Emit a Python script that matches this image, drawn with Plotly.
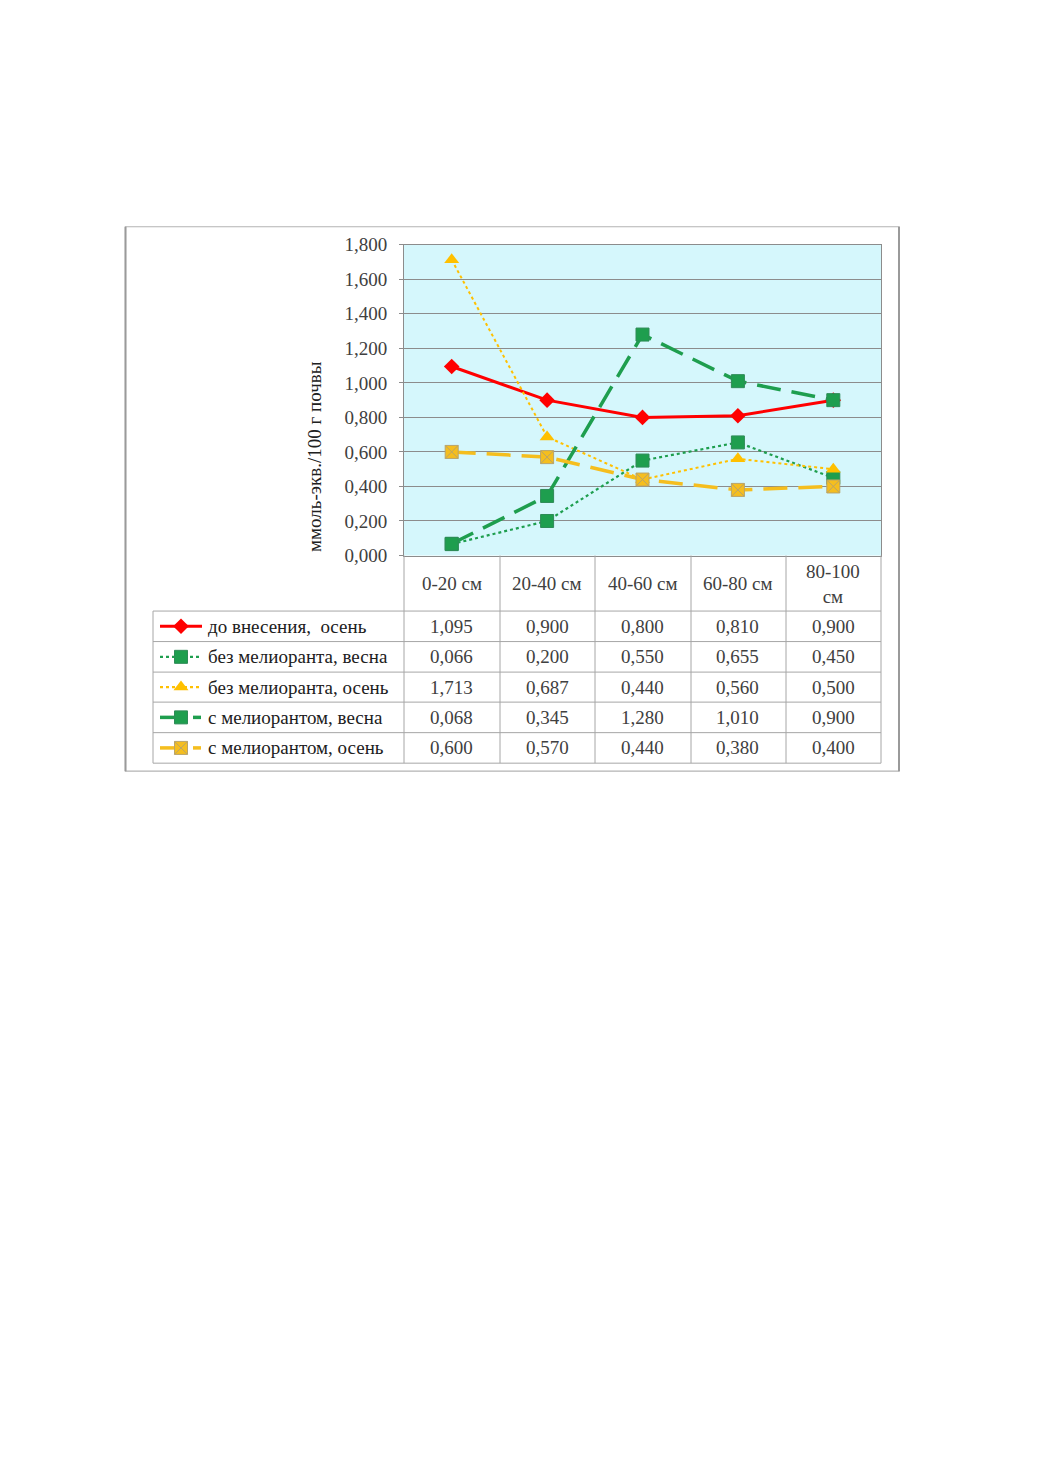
import plotly.graph_objects as go

# ---------------- data ----------------
categories = ["0-20 см", "20-40 см", "40-60 см", "60-80 см", "80-100 см"]
header_labels = ["0-20 см", "20-40 см", "40-60 см", "60-80 см", "80-100<br>см"]
series_names = [
    "до внесения,  осень",
    "без мелиоранта, весна",
    "без мелиоранта, осень",
    "с мелиорантом, весна",
    "с мелиорантом, осень",
]
do_vnesenia_osen = [1.095, 0.900, 0.800, 0.810, 0.900]
bez_meliorant_vesna = [0.066, 0.200, 0.550, 0.655, 0.450]
bez_meliorant_osen = [1.713, 0.687, 0.440, 0.560, 0.500]
s_meliorant_vesna = [0.068, 0.345, 1.280, 1.010, 0.900]
s_meliorant_osen = [0.600, 0.570, 0.440, 0.380, 0.400]
all_series = [do_vnesenia_osen, bez_meliorant_vesna, bez_meliorant_osen,
              s_meliorant_vesna, s_meliorant_osen]
y_title = "ммоль-экв./100 г почвы"

# ---------------- styles ----------------
W, H = 1040, 1473
RED = "#FF0000"
GREEN = "#1E9E4E"
YELLOW = "#FFC000"
YELLOW2 = "#F5BE1E"
styles = [
    dict(line=dict(color=RED, width=3, dash="solid"),
         marker=dict(symbol="diamond", size=12, color=RED)),
    dict(line=dict(color=GREEN, width=2.2, dash="dot"),
         marker=dict(symbol="square", size=13, color=GREEN,
                     line=dict(color="#2E8B57", width=1))),
    dict(line=dict(color=YELLOW, width=2, dash="dot"),
         marker=dict(symbol="triangle-up", size=13, color=YELLOW)),
    dict(line=dict(color=GREEN, width=3.5, dash="24px,11px"),
         marker=dict(symbol="square", size=13, color=GREEN,
                     line=dict(color="#2E8B57", width=1))),
    dict(line=dict(color=YELLOW2, width=3.5, dash="24px,11px"),
         marker=dict(symbol="square-x", size=13, color=YELLOW2,
                     line=dict(color="#B9A46A", width=1))),
]

FONT = "Liberation Serif"
FS = 19
TXT = "#404040"
TABLE_LINE = "#A6A6A6"


def Y(y):
    # vertical correction for the capture
    return (y - 10.4) / 0.985


def px(x):
    return x / W


def py(y):
    return 1 - Y(y) / H


# geometry (pixels, as in reference)
PL, PR, PT, PB = 404, 881, 245, 555.5
col_edges = [404, 500, 595, 691, 786, 881]
row_edges = [611, 641.5, 672, 702, 732.5, 763]
TL = 153  # table left edge
FRAME = (125.5, 227, 899, 771)

fig = go.Figure()

for vals, name, st in zip(all_series, series_names, styles):
    fig.add_trace(go.Scatter(x=categories, y=vals, name=name, mode="lines+markers",
                             line=st["line"], marker=st["marker"],
                             xaxis="x", yaxis="y", showlegend=False,
                             cliponaxis=False))

# legend keys inside the table (overlay pixel axis)
for i, st in enumerate(styles):
    yc = Y((row_edges[i] + row_edges[i + 1]) / 2)
    col = st["line"]["color"]
    if i in (3, 4):
        segs = [([160, 181], dict(color=col, width=3.5)),
                ([193, 201], dict(color=col, width=3.5))]
    elif i == 0:
        segs = [([160, 202], dict(color=col, width=3))]
    else:
        segs = [([160, 202], dict(color=col, width=2.2, dash="dot"))]
    for xs, ln in segs:
        fig.add_trace(go.Scatter(x=xs, y=[yc, yc], mode="lines", line=ln,
                                 xaxis="x2", yaxis="y2", showlegend=False, hoverinfo="skip"))
    fig.add_trace(go.Scatter(x=[181], y=[yc], mode="markers", marker=st["marker"],
                             xaxis="x2", yaxis="y2", showlegend=False, hoverinfo="skip"))

shapes = []
# cyan plot background
shapes.append(dict(type="rect", xref="paper", yref="paper",
                   x0=px(PL), x1=px(PR), y0=py(PB), y1=py(PT),
                   fillcolor="#D5F7FC", line=dict(width=0), layer="below"))
# outer frame
shapes.append(dict(type="rect", xref="paper", yref="paper",
                   x0=px(FRAME[0]), x1=px(FRAME[2]), y0=py(FRAME[3]), y1=py(FRAME[1]),
                   line=dict(color="#B4B4B4", width=1.2)))
for xe in (FRAME[0], FRAME[2]):
    shapes.append(dict(type="line", xref="paper", yref="paper",
                       x0=px(xe), x1=px(xe), y0=py(FRAME[3]), y1=py(FRAME[1]),
                       line=dict(color="#9A9A9A", width=2)))
# table vertical lines
for xe in col_edges:
    shapes.append(dict(type="line", xref="paper", yref="paper",
                       x0=px(xe), x1=px(xe), y0=py(PB), y1=py(row_edges[-1]),
                       line=dict(color=TABLE_LINE, width=1)))
shapes.append(dict(type="line", xref="paper", yref="paper",
                   x0=px(TL), x1=px(TL), y0=py(row_edges[0]), y1=py(row_edges[-1]),
                   line=dict(color=TABLE_LINE, width=1)))
for ye in row_edges:
    shapes.append(dict(type="line", xref="paper", yref="paper",
                       x0=px(TL), x1=px(PR), y0=py(ye), y1=py(ye),
                       line=dict(color=TABLE_LINE, width=1)))

annotations = []
# header labels
for cat, lab in zip(categories, header_labels):
    annotations.append(dict(x=cat, xref="x", y=py(583.5), yref="paper", text=lab,
                            showarrow=False, xanchor="center", yanchor="middle",
                            font=dict(family=FONT, size=FS, color=TXT)))
# table values and names
for i, (vals, name) in enumerate(zip(all_series, series_names)):
    yc = (row_edges[i] + row_edges[i + 1]) / 2
    annotations.append(dict(x=px(206), xref="paper", y=py(yc), yref="paper",
                            text=name, showarrow=False, xanchor="left", yanchor="middle",
                            font=dict(family=FONT, size=FS, color="#202020")))
    for cat, v in zip(categories, vals):
        annotations.append(dict(x=cat, xref="x", y=py(yc), yref="paper",
                                text=f"{v:.3f}".replace(".", ","), showarrow=False,
                                xanchor="center", yanchor="middle",
                                font=dict(family=FONT, size=FS, color=TXT)))
# y-axis title
annotations.append(dict(x=px(315), xref="paper", y=py(457), yref="paper", text=y_title,
                        textangle=-90, showarrow=False, xanchor="center", yanchor="middle",
                        font=dict(family=FONT, size=FS, color="#202020")))

fig.update_layout(
    width=W, height=H,
    margin=dict(l=0, r=0, t=0, b=0),
    paper_bgcolor="white",
    plot_bgcolor="rgba(0,0,0,0)",
    separators=", ",
    xaxis=dict(domain=[px(PL), px(PR)], anchor="y", type="category",
               range=[-0.5, 4.5], showticklabels=False, ticks="",
               showgrid=False, zeroline=False, showline=True, mirror=True,
               linecolor="#8C8C8C", linewidth=1),
    yaxis=dict(domain=[py(PB), py(PT)], anchor="x", range=[0, 1.8], dtick=0.2,
               tickformat=".3f", showgrid=True, gridcolor="#8C8C8C", gridwidth=1,
               zeroline=False, showline=True, mirror=True, linecolor="#8C8C8C",
               linewidth=1, ticks="outside", ticklen=4, tickcolor="#8C8C8C",
               ticklabelstandoff=8,
               tickfont=dict(family=FONT, size=FS, color=TXT)),
    xaxis2=dict(domain=[0, 1], anchor="y2", range=[0, W], visible=False, fixedrange=True),
    yaxis2=dict(domain=[0, 1], anchor="x2", range=[H, 0], visible=False, fixedrange=True),
    shapes=shapes,
    annotations=annotations,
)

fig.write_html("out.html")
